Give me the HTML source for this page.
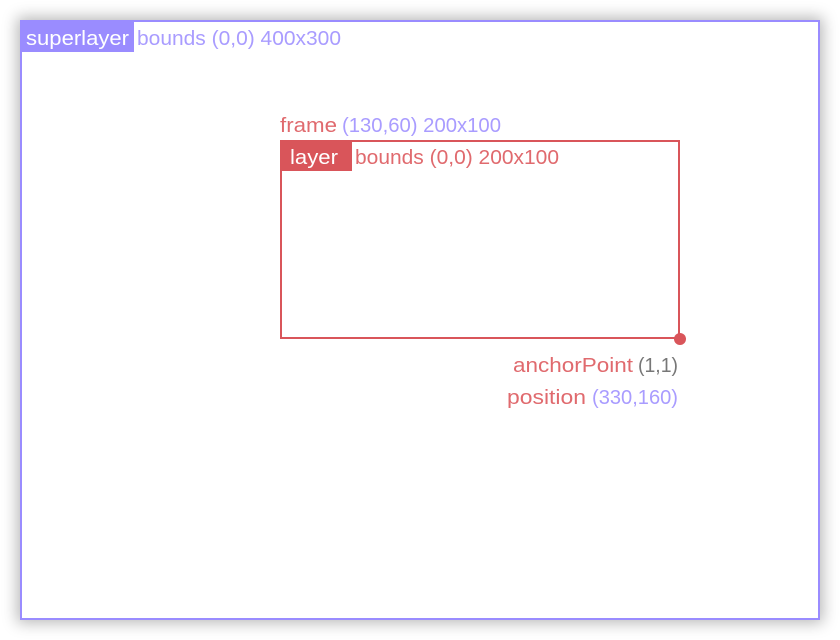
<!DOCTYPE html>
<html><head><style>
html,body{margin:0;padding:0;background:#fff;width:840px;height:640px;overflow:hidden}
#box{position:absolute;left:20px;top:20px;width:796px;height:596px;border:2px solid #9a8cff;background:#fff;box-shadow:0 0 14px 3px rgba(0,0,0,0.28)}
svg{position:absolute;left:0;top:0}
text{font-family:"Liberation Sans",sans-serif;font-size:20px;}
</style></head><body>
<div id="box"></div>
<svg width="840" height="640">
<rect x="21" y="21" width="113" height="31" fill="#9a8cff"/>
<text x="26" y="45" fill="#fff" textLength="103" lengthAdjust="spacingAndGlyphs">superlayer</text>
<text x="137" y="45" fill="#a99cff" textLength="204" lengthAdjust="spacingAndGlyphs">bounds (0,0) 400x300</text>
<text x="280" y="132" fill="#e06a6e" textLength="57" lengthAdjust="spacingAndGlyphs">frame</text>
<text x="342" y="132" fill="#a99cff" textLength="159" lengthAdjust="spacingAndGlyphs">(130,60) 200x100</text>
<rect x="281" y="141" width="398" height="197" fill="none" stroke="#d9555a" stroke-width="2"/>
<rect x="281" y="142" width="71" height="29" fill="#d9555a"/>
<text x="290" y="164" fill="#fff" textLength="48" lengthAdjust="spacingAndGlyphs">layer</text>
<text x="355" y="164" fill="#e06a6e" textLength="204" lengthAdjust="spacingAndGlyphs">bounds (0,0) 200x100</text>
<circle cx="680" cy="339" r="6" fill="#d9555a"/>
<text x="513" y="372" fill="#e06a6e" textLength="120" lengthAdjust="spacingAndGlyphs">anchorPoint</text>
<text x="638" y="372" fill="#777" textLength="40" lengthAdjust="spacingAndGlyphs">(1,1)</text>
<text x="507" y="404" fill="#e06a6e" textLength="79" lengthAdjust="spacingAndGlyphs">position</text>
<text x="592" y="404" fill="#a99cff" textLength="86" lengthAdjust="spacingAndGlyphs">(330,160)</text>
</svg>
</body></html>
